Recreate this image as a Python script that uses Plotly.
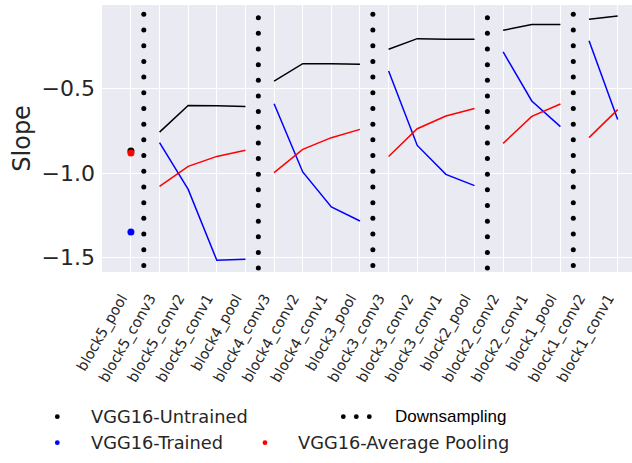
import numpy as np
import plotly.graph_objects as go

# ---------------- data ----------------
layers = ["block5_pool", "block5_conv3", "block5_conv2", "block5_conv1",
          "block4_pool", "block4_conv3", "block4_conv2", "block4_conv1",
          "block3_pool", "block3_conv3", "block3_conv2", "block3_conv1",
          "block2_pool", "block2_conv2", "block2_conv1",
          "block1_pool", "block1_conv2", "block1_conv1"]
untrained = [-0.869, -0.757, -0.599, -0.601, -0.605, -0.455, -0.352, -0.352, -0.356,
             -0.267, -0.204, -0.207, -0.208, -0.155, -0.120, -0.120, -0.090, -0.070]
trained = [-1.349, -0.820, -1.096, -1.516, -1.510, -0.589, -0.993, -1.200, -1.283,
           -0.396, -0.836, -1.007, -1.074, -0.283, -0.573, -0.725, -0.216, -0.683]
avgpool = [-0.881, -1.078, -0.960, -0.901, -0.865, -0.997, -0.859, -0.790, -0.741,
           -0.902, -0.737, -0.662, -0.618, -0.824, -0.664, -0.591, -0.790, -0.624]
downsampling_after = ["block5_pool", "block4_pool", "block3_pool", "block2_pool", "block1_pool"]
series_names = ["VGG16-Untrained", "VGG16-Trained", "VGG16-Average Pooling"]
y_ticks = [-1.5, -1.0, -0.5]
y_tick_labels = ["\u22121.5", "\u22121.0", "\u22120.5"]

# ---------------- style ----------------
colors = ["black", "blue", "red"]
TXT = "#262626"
BG = "#EAEAF2"
W, H = 632, 463
ML, MR, MT, MB = 102, 0, 5, 191
PW, PH = W - ML - MR, H - MT - MB
FONT = "DejaVu Sans"
XRANGE = [-1.01, 17.5]
LABEL_SHIFT = 0.33   # rotated labels end just left of their tick

fig = go.Figure()

# segments separated by downsampling
breaks = [layers.index(n) + 1 for n in downsampling_after]
starts = [0] + breaks
ends = breaks + [len(layers)]
segments = [list(range(s, e)) for s, e in zip(starts, ends) if e > s]

# dotted downsampling lines
for j, name in enumerate(downsampling_after):
    xpos = layers.index(name) + 0.45
    top, bot = (-0.060, -1.546) if j % 2 == 0 else (-0.080, -1.562)
    ys = np.linspace(top, bot, 17)
    fig.add_trace(go.Scatter(x=[xpos] * len(ys), y=ys, mode="markers",
                             marker=dict(color="black", size=5),
                             showlegend=False, hoverinfo="skip"))

x_idx = list(range(len(layers)))
for vals, col, nm in zip([untrained, trained, avgpool], colors, series_names):
    for seg in segments:
        xs = [x_idx[i] for i in seg]
        ys = [vals[i] for i in seg]
        if len(seg) == 1:
            fig.add_trace(go.Scatter(x=xs, y=ys, mode="markers", name=nm,
                                     marker=dict(color=col, size=7),
                                     showlegend=False))
        else:
            fig.add_trace(go.Scatter(x=xs, y=ys, mode="lines", name=nm,
                                     line=dict(color=col, width=1.5),
                                     showlegend=False))

# invisible trace carrying the label axis
fig.add_trace(go.Scatter(x=[XRANGE[0]], y=[y_ticks[0]], xaxis="x2", mode="markers",
                         marker=dict(opacity=0), showlegend=False, hoverinfo="skip"))

# manual legend
def px_to_paper(px, py):
    return (px - ML) / PW, (MT + PH - py) / PH

legend_items = [
    ([57.3], "black", 89, 416.7, series_names[0], FONT, 17.8, TXT),
    ([343.3, 356.3, 369.3], "black", 392.5, 416.7, "Downsampling", "Liberation Sans", 17, "black"),
    ([57.3], "blue", 89, 442.7, series_names[1], FONT, 17.8, TXT),
    ([265], "red", 296, 442.7, series_names[2], FONT, 17.8, TXT),
]
for mxs, mc, tx, ry, text, fam, fs, tc in legend_items:
    for mx in mxs:
        ax, ay = px_to_paper(mx, ry)
        fig.add_shape(type="circle", xref="paper", yref="paper",
                      xsizemode="pixel", ysizemode="pixel",
                      xanchor=ax, yanchor=ay, x0=-2.4, x1=2.4, y0=-2.4, y1=2.4,
                      fillcolor=mc, line=dict(width=0), layer="above")
    tx_p, ty_p = px_to_paper(tx, ry)
    fig.add_annotation(x=tx_p, y=ty_p, xref="paper", yref="paper",
                       text=text, showarrow=False, xanchor="left", yanchor="middle",
                       font=dict(family=fam, size=fs, color=tc))

# y-axis title
fig.add_annotation(x=px_to_paper(21.7, 0)[0], y=px_to_paper(0, 138)[1],
                   xref="paper", yref="paper", text="Slope", textangle=-90,
                   showarrow=False, xanchor="center", yanchor="middle",
                   font=dict(size=24, color=TXT))

fig.update_layout(
    width=W, height=H,
    margin=dict(l=ML, r=MR, t=MT, b=MB, autoexpand=False),
    plot_bgcolor=BG, paper_bgcolor="white",
    font=dict(family=FONT, color=TXT),
    showlegend=False,
    hovermode=False,
    xaxis=dict(range=XRANGE, tickmode="array", tickvals=x_idx, showticklabels=False,
               showgrid=True, gridcolor="white", gridwidth=1,
               zeroline=False, showline=False, ticks="", automargin=False),
    xaxis2=dict(range=XRANGE, overlaying="x", side="bottom", anchor="y",
                tickmode="array", tickvals=[i - LABEL_SHIFT for i in x_idx],
                ticktext=layers, tickangle=-60, tickfont=dict(size=14.5, color=TXT),
                showgrid=False, zeroline=False, showline=False, ticks="",
                ticklabelstandoff=14, automargin=False),
    yaxis=dict(range=[-1.585, -0.005], tickmode="array", tickvals=y_ticks,
               ticktext=y_tick_labels, tickfont=dict(size=22, color=TXT),
               showgrid=True, gridcolor="white", gridwidth=1,
               zeroline=False, showline=False, ticks="", ticklabelstandoff=6,
               automargin=False),
)

fig.write_html("out.html",
               config={"displayModeBar": False, "staticPlot": True},
               post_script="document.body.style.margin='0px';document.body.style.padding='0px';")
